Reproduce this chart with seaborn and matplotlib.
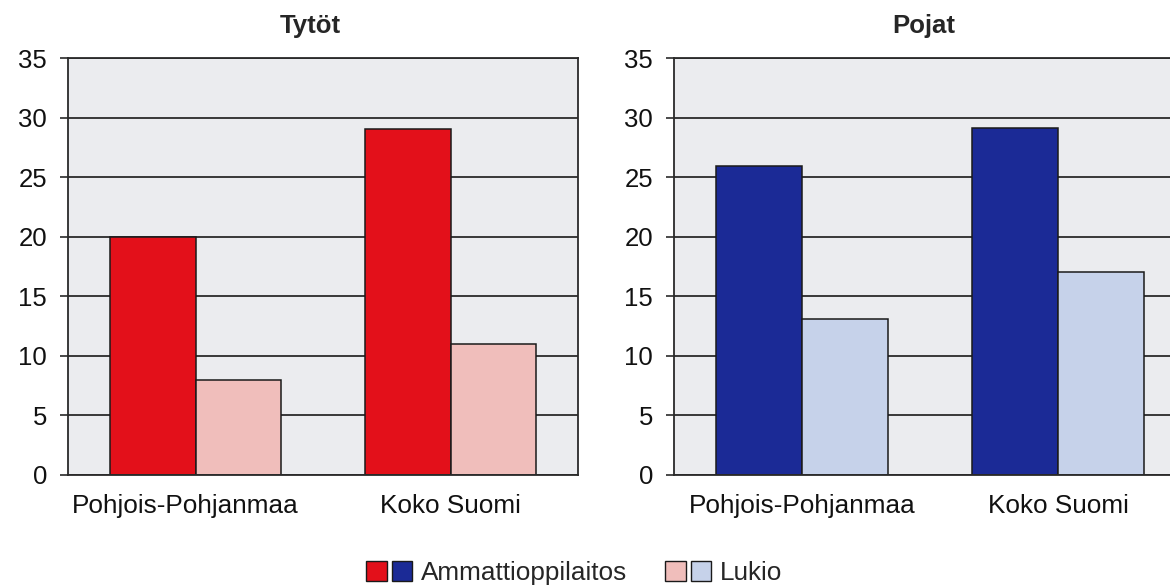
import matplotlib
matplotlib.use("Agg")
import matplotlib.pyplot as plt
import matplotlib.transforms as mtransforms
from matplotlib.patches import Patch
from matplotlib.legend_handler import HandlerTuple
import seaborn as sns
import pandas as pd

# Data: share (%) by school type, region and gender
regions = ["Pohjois-Pohjanmaa", "Koko Suomi"]
school_types = ["Ammattioppilaitos", "Lukio"]
girls_ammatti = [20, 29]
girls_lukio = [8, 11]
boys_ammatti = [25.9, 29.1]
boys_lukio = [13.1, 17]
panel_titles = ["Tytöt", "Pojat"]

girls_colors = ["#E3101A", "#F0BEBB"]
boys_colors = ["#1B2A96", "#C6D2EA"]

sns.set_theme(style="white")
plt.rcParams["font.family"] = ["Liberation Sans", "DejaVu Sans"]


def frame(amm, luk):
    return pd.DataFrame({
        "region": regions * 2,
        "type": [school_types[0]] * len(regions) + [school_types[1]] * len(regions),
        "value": list(amm) + list(luk),
    })


fig = plt.figure(figsize=(11.7, 5.88), dpi=100)
ax_l = fig.add_axes([68 / 1170, 1 - 475 / 588, 510 / 1170, 417 / 588])
ax_r = fig.add_axes([674 / 1170, 1 - 475 / 588, 512 / 1170, 417 / 588])

panels = [
    (ax_l, frame(girls_ammatti, girls_lukio), girls_colors, panel_titles[0], 0.475),
    (ax_r, frame(boys_ammatti, boys_lukio), boys_colors, panel_titles[1], 0.488),
]

for ax, df, cols, title, title_x in panels:
    ax.set_facecolor("#EBECEF")
    ax.set_axisbelow(True)
    ax.yaxis.grid(True, color="#2a2a2a", linewidth=1.3)
    sns.barplot(data=df, x="region", y="value", hue="type", hue_order=school_types,
                order=regions, palette=cols, width=0.67, edgecolor="#1a1a1a",
                linewidth=1.1, saturation=1, legend=False, ax=ax)
    ax.set_ylim(0, 35)
    ax.set_yticks(range(0, 36, 5))
    ax.set_xlim(-0.5, 1.5)
    ax.set_xlabel("")
    ax.set_ylabel("")
    ax.set_title(title, fontsize=18.5, fontweight="bold", pad=18, x=title_x)
    for side in ["top", "right", "left", "bottom"]:
        ax.spines[side].set_visible(True)
        ax.spines[side].set_color("#2a2a2a")
        ax.spines[side].set_linewidth(1.3)
    ax.tick_params(axis="y", which="both", left=True, length=6, width=1.2,
                   color="#2a2a2a", labelsize=18.5, pad=9, labelcolor="#111111")
    ax.tick_params(axis="x", bottom=False, labelsize=18.8, pad=8, labelcolor="#111111")

# nudge the long left-panel region label slightly to the left
shift = mtransforms.ScaledTranslation(-10 / 100, 0, fig.dpi_scale_trans)
lbl = ax_l.get_xticklabels()[0]
lbl.set_transform(lbl.get_transform() + shift)

handles = [
    (Patch(facecolor=girls_colors[0], edgecolor="#1a1a1a"),
     Patch(facecolor=boys_colors[0], edgecolor="#1a1a1a")),
    (Patch(facecolor=girls_colors[1], edgecolor="#1a1a1a"),
     Patch(facecolor=boys_colors[1], edgecolor="#1a1a1a")),
]
fig.legend(handles, school_types, loc="lower center", bbox_to_anchor=(0.491, -0.035),
           ncol=2, frameon=False, fontsize=18.8,
           handler_map={tuple: HandlerTuple(ndivide=None, pad=0.2)},
           handlelength=1.75, handleheight=0.78, columnspacing=1.45, handletextpad=0.35)

fig.savefig("out.png", dpi=100)
